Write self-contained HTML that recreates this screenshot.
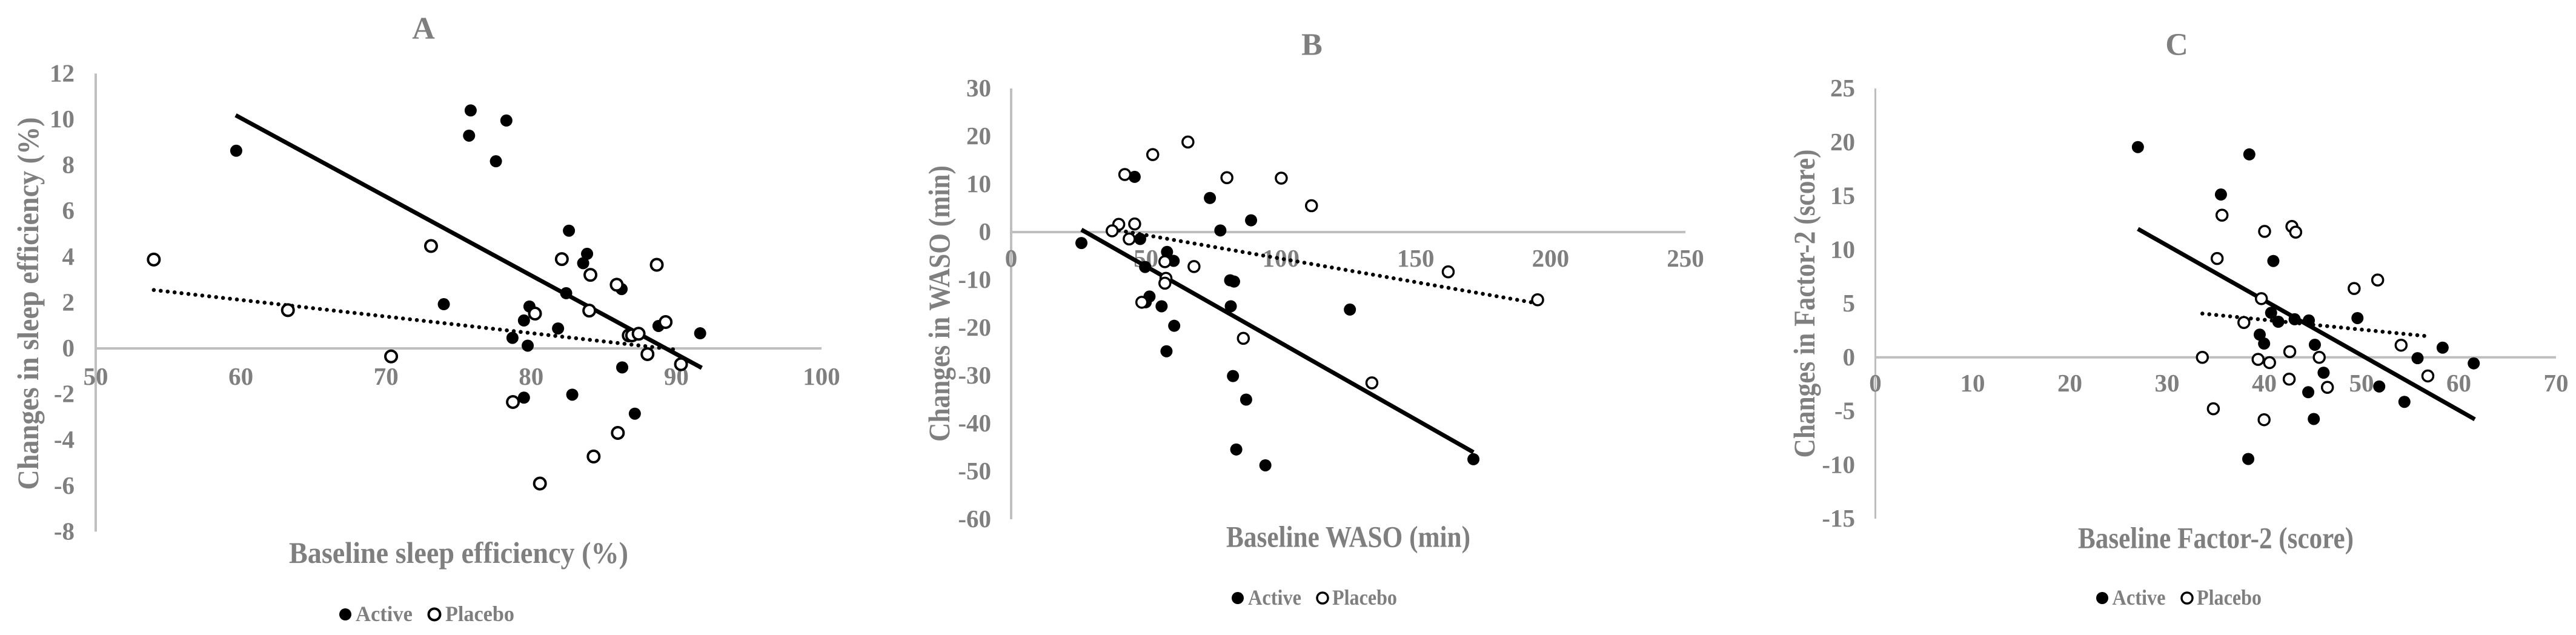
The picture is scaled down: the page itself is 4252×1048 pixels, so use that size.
<!DOCTYPE html>
<html lang="en">
<head>
<meta charset="utf-8">
<title>Baseline versus change scatter charts</title>
<style>
html,body{margin:0;padding:0;background:#fff;}
body{width:4252px;height:1048px;overflow:hidden;}
svg{display:block;}
text{font-family:"Liberation Serif",serif;font-weight:bold;fill:#7f7f7f;}
.tick{font-size:41px;}
.title{font-size:52px;text-anchor:middle;}
.axis-title{font-size:50px;}
.legend{font-size:36px;}
</style>
</head>
<body>
<svg id="figure" xmlns="http://www.w3.org/2000/svg" width="4252" height="1048" viewBox="0 0 4252 1048">
  <rect x="0" y="0" width="4252" height="1048" fill="#ffffff"/>

  <g id="panel-a">
    <text class="title" x="699" y="64">A</text>
    <text class="axis-title" transform="translate(63 501) rotate(-90)" text-anchor="middle" textLength="615" lengthAdjust="spacingAndGlyphs">Changes in sleep efficiency (%)</text>
    <text class="axis-title" x="477" y="929" textLength="560" lengthAdjust="spacingAndGlyphs">Baseline sleep efficiency (%)</text>
    <circle cx="570" cy="1014" r="10" fill="#000"/>
    <text class="legend" x="587" y="1025" textLength="94" lengthAdjust="spacingAndGlyphs">Active</text>
    <circle cx="717" cy="1014" r="9.5" fill="#fff" stroke="#000" stroke-width="4"/>
    <text class="legend" x="735" y="1025" textLength="114" lengthAdjust="spacingAndGlyphs">Placebo</text>
  </g>

  <g id="panel-b">
    <text class="title" x="2165.5" y="90.5">B</text>
    <text class="axis-title" transform="translate(1567 501) rotate(-90)" text-anchor="middle" textLength="456" lengthAdjust="spacingAndGlyphs">Changes in WASO (min)</text>
    <text class="axis-title" x="2024" y="902.5" textLength="403" lengthAdjust="spacingAndGlyphs">Baseline WASO (min)</text>
    <circle cx="2043" cy="987" r="10" fill="#000"/>
    <text class="legend" x="2060" y="998" textLength="88" lengthAdjust="spacingAndGlyphs">Active</text>
    <circle cx="2183" cy="987" r="9" fill="#fff" stroke="#000" stroke-width="3.5"/>
    <text class="legend" x="2199" y="998" textLength="107" lengthAdjust="spacingAndGlyphs">Placebo</text>
  </g>

  <g id="panel-c">
    <text class="title" x="3593" y="90.5">C</text>
    <text class="axis-title" transform="translate(2995 501) rotate(-90)" text-anchor="middle" textLength="509" lengthAdjust="spacingAndGlyphs">Changes in Factor-2 (score)</text>
    <text class="axis-title" x="3430" y="904.5" textLength="455" lengthAdjust="spacingAndGlyphs">Baseline Factor-2 (score)</text>
    <circle cx="3470" cy="987" r="10" fill="#000"/>
    <text class="legend" x="3486.5" y="998" textLength="88" lengthAdjust="spacingAndGlyphs">Active</text>
    <circle cx="3610" cy="987" r="9" fill="#fff" stroke="#000" stroke-width="3.5"/>
    <text class="legend" x="3626" y="998" textLength="107" lengthAdjust="spacingAndGlyphs">Placebo</text>
  </g>
</svg>

<script>
// Panel A: sleep efficiency
const xTicksA = [50, 60, 70, 80, 90, 100];
const yTicksA = [12, 10, 8, 6, 4, 2, 0, -2, -4, -6, -8];
const activeXA = [59.68, 75.83, 78.29, 75.72, 77.57, 82.6, 83.85, 83.58, 86.23, 82.41, 73.98, 79.88, 79.5, 81.85, 88.77, 91.64, 78.71, 79.76, 86.27, 82.83, 79.5, 87.14];
const activeYA = [8.63, 10.39, 9.95, 9.29, 8.17, 5.14, 4.13, 3.72, 2.59, 2.41, 1.93, 1.83, 1.22, 0.87, 0.98, 0.66, 0.46, 0.12, -0.83, -2.02, -2.15, -2.85];
const placeboXA = [54.0, 73.1, 63.24, 70.35, 82.11, 84.08, 88.65, 85.89, 80.26, 84.0, 89.26, 86.72, 86.95, 87.4, 88.01, 90.32, 78.74, 85.97, 84.3, 80.6];
const placeboYA = [3.88, 4.47, 1.67, -0.35, 3.9, 3.21, 3.65, 2.78, 1.52, 1.65, 1.15, 0.57, 0.57, 0.64, -0.25, -0.69, -2.34, -3.69, -4.72, -5.9];
const activeTrendXA = [59.64, 91.75];
const activeTrendYA = [10.18, -0.85];
const placeboTrendXA = [54.0, 90.17];
const placeboTrendYA = [2.55, -0.07];

// Panel B: WASO
const xTicksB = [0, 50, 100, 150, 200, 250];
const yTicksB = [30, 20, 10, 0, -10, -20, -30, -40, -50, -60];
const activeXB = [26.06, 45.8, 73.7, 88.96, 77.57, 47.84, 57.8, 60.26, 49.67, 81.2, 82.65, 51.3, 55.78, 81.43, 125.6, 60.46, 57.6, 82.25, 87.13, 83.47, 94.26, 171.4, 49.9];
const activeYB = [-2.29, 11.53, 7.12, 2.46, 0.34, -1.44, -4.15, -6.02, -7.29, -10.08, -10.34, -13.47, -15.5, -15.5, -16.19, -19.58, -24.9, -30.08, -35.0, -45.42, -48.73, -47.46, -14.66];
const placeboXB = [65.55, 52.5, 42.14, 80.0, 100.16, 111.36, 39.9, 45.8, 37.46, 43.77, 57.0, 67.8, 57.4, 57.0, 48.45, 162.05, 195.2, 86.1, 133.75];
const placeboYB = [18.81, 16.19, 12.03, 11.36, 11.27, 5.51, 1.61, 1.69, 0.25, -1.44, -6.19, -7.2, -9.66, -10.68, -14.66, -8.31, -14.15, -22.2, -31.5];
const activeTrendXB = [26.06, 171.4];
const activeTrendYB = [0.5, -46.0];
const placeboTrendXB = [37.46, 195.2];
const placeboTrendYB = [0.6, -14.9];

// Panel C: Factor-2
const xTicksC = [0, 10, 20, 30, 40, 50, 60, 70];
const yTicksC = [25, 20, 15, 10, 5, 0, -5, -10, -15];
const activeXC = [27.0, 38.46, 35.54, 40.93, 40.7, 41.44, 43.12, 44.58, 49.58, 39.53, 39.98, 45.2, 58.34, 55.76, 61.54, 46.1, 51.82, 44.52, 54.41, 45.09, 38.35];
const activeYC = [19.55, 18.87, 15.14, 8.96, 4.14, 3.31, 3.54, 3.43, 3.65, 2.11, 1.28, 1.17, 0.9, -0.08, -0.56, -1.43, -2.71, -3.24, -4.14, -5.73, -9.45];
const placeboXC = [35.65, 40.03, 42.84, 43.23, 35.15, 51.66, 49.24, 39.7, 37.9, 54.07, 42.62, 33.63, 39.36, 45.65, 40.54, 56.82, 42.56, 46.49, 34.76, 39.98];
const placeboYC = [13.22, 11.71, 12.17, 11.64, 9.19, 7.19, 6.4, 5.46, 3.24, 1.13, 0.53, 0, -0.19, 0, -0.49, -1.73, -2.03, -2.79, -4.78, -5.8];
const activeTrendXC = [27.0, 61.65];
const activeTrendYC = [11.94, -5.76];
const placeboTrendXC = [33.63, 56.82];
const placeboTrendYC = [4.07, 1.96];

const SVG_NS = 'http://www.w3.org/2000/svg';

function makeScale(d0, d1, r0, r1) {
  return function (v) { return r0 + (v - d0) * (r1 - r0) / (d1 - d0); };
}

function drawPanel(key, box, data) {
  const g = document.getElementById('panel-' + key);
  const sx = makeScale(data.xTicks[0], data.xTicks[data.xTicks.length - 1], box.left, box.right);
  const sy = makeScale(data.yTicks[0], data.yTicks[data.yTicks.length - 1], box.top, box.bottom);
  const zeroY = sy(0);
  const axisLeft = sx(data.xTicks[0]);

  const yAxis = document.createElementNS(SVG_NS, 'line');
  
  
  yAxis.setAttribute('x1', axisLeft);
  yAxis.setAttribute('x2', axisLeft);
  yAxis.setAttribute('y1', box.top);
  yAxis.setAttribute('y2', box.bottom);
  yAxis.setAttribute('stroke', '#bfbfbf');
  yAxis.setAttribute('stroke-width', box.axisWidth);
  g.appendChild(yAxis);

  const xAxis = document.createElementNS(SVG_NS, 'line');
  
  
  xAxis.setAttribute('x1', box.left);
  xAxis.setAttribute('x2', box.right);
  xAxis.setAttribute('y1', zeroY);
  xAxis.setAttribute('y2', zeroY);
  xAxis.setAttribute('stroke', '#bfbfbf');
  xAxis.setAttribute('stroke-width', 4);
  g.appendChild(xAxis);

  data.xTicks.forEach(function (t) {
    const el = document.createElementNS(SVG_NS, 'text');
    
    
    el.setAttribute('class', 'tick');
    el.setAttribute('x', sx(t));
    el.setAttribute('y', zeroY + box.xTickDrop);
    el.setAttribute('text-anchor', 'middle');
    el.textContent = String(t);
    g.appendChild(el);
  });

  data.yTicks.forEach(function (t) {
    const el = document.createElementNS(SVG_NS, 'text');
    
    
    el.setAttribute('class', 'tick');
    el.setAttribute('x', axisLeft - box.yTickGap);
    el.setAttribute('y', sy(t) + 13);
    el.setAttribute('text-anchor', 'end');
    el.textContent = String(t);
    g.appendChild(el);
  });

  const activeTrend = document.createElementNS(SVG_NS, 'line');
  
  
  activeTrend.setAttribute('x1', sx(data.activeTrendX[0]));
  activeTrend.setAttribute('y1', sy(data.activeTrendY[0]));
  activeTrend.setAttribute('x2', sx(data.activeTrendX[1]));
  activeTrend.setAttribute('y2', sy(data.activeTrendY[1]));
  activeTrend.setAttribute('stroke', '#000');
  activeTrend.setAttribute('stroke-width', 7);
  g.appendChild(activeTrend);

  const placeboTrend = document.createElementNS(SVG_NS, 'line');
  
  
  placeboTrend.setAttribute('x1', sx(data.placeboTrendX[0]));
  placeboTrend.setAttribute('y1', sy(data.placeboTrendY[0]));
  placeboTrend.setAttribute('x2', sx(data.placeboTrendX[1]));
  placeboTrend.setAttribute('y2', sy(data.placeboTrendY[1]));
  placeboTrend.setAttribute('stroke', '#000');
  placeboTrend.setAttribute('stroke-width', 6.5);
  placeboTrend.setAttribute('stroke-linecap', 'round');
  placeboTrend.setAttribute('stroke-dasharray', '0.1 11.4');
  g.appendChild(placeboTrend);

  data.activeX.forEach(function (x, i) {
    const c = document.createElementNS(SVG_NS, 'circle');
    
    
    c.setAttribute('cx', sx(x));
    c.setAttribute('cy', sy(data.activeY[i]));
    c.setAttribute('r', box.activeR);
    c.setAttribute('fill', '#000');
    g.appendChild(c);
  });

  data.placeboX.forEach(function (x, i) {
    const c = document.createElementNS(SVG_NS, 'circle');
    
    
    c.setAttribute('cx', sx(x));
    c.setAttribute('cy', sy(data.placeboY[i]));
    c.setAttribute('r', box.placeboR);
    c.setAttribute('fill', '#fff');
    c.setAttribute('stroke', '#000');
    c.setAttribute('stroke-width', box.placeboStroke);
    g.appendChild(c);
  });
}

drawPanel('a',
  {left: 158, right: 1356, top: 121.4, bottom: 877.4, axisWidth: 4, xTickDrop: 60, yTickGap: 35, activeR: 10, placeboR: 9.5, placeboStroke: 4},
  {xTicks: xTicksA, yTicks: yTicksA, activeX: activeXA, activeY: activeYA, placeboX: placeboXA, placeboY: placeboYA,
   activeTrendX: activeTrendXA, activeTrendY: activeTrendYA, placeboTrendX: placeboTrendXA, placeboTrendY: placeboTrendYA});

drawPanel('b',
  {left: 1669, right: 2782, top: 146, bottom: 857, axisWidth: 4, xTickDrop: 57, yTickGap: 33, activeR: 10, placeboR: 9, placeboStroke: 3.5},
  {xTicks: xTicksB, yTicks: yTicksB, activeX: activeXB, activeY: activeYB, placeboX: placeboXB, placeboY: placeboYB,
   activeTrendX: activeTrendXB, activeTrendY: activeTrendYB, placeboTrendX: placeboTrendXB, placeboTrendY: placeboTrendYB});

drawPanel('c',
  {left: 3095.5, right: 4219, top: 146, bottom: 856, axisWidth: 3, xTickDrop: 56, yTickGap: 33.5, activeR: 10, placeboR: 9, placeboStroke: 3.5},
  {xTicks: xTicksC, yTicks: yTicksC, activeX: activeXC, activeY: activeYC, placeboX: placeboXC, placeboY: placeboYC,
   activeTrendX: activeTrendXC, activeTrendY: activeTrendYC, placeboTrendX: placeboTrendXC, placeboTrendY: placeboTrendYC});
</script>
</body>
</html>
